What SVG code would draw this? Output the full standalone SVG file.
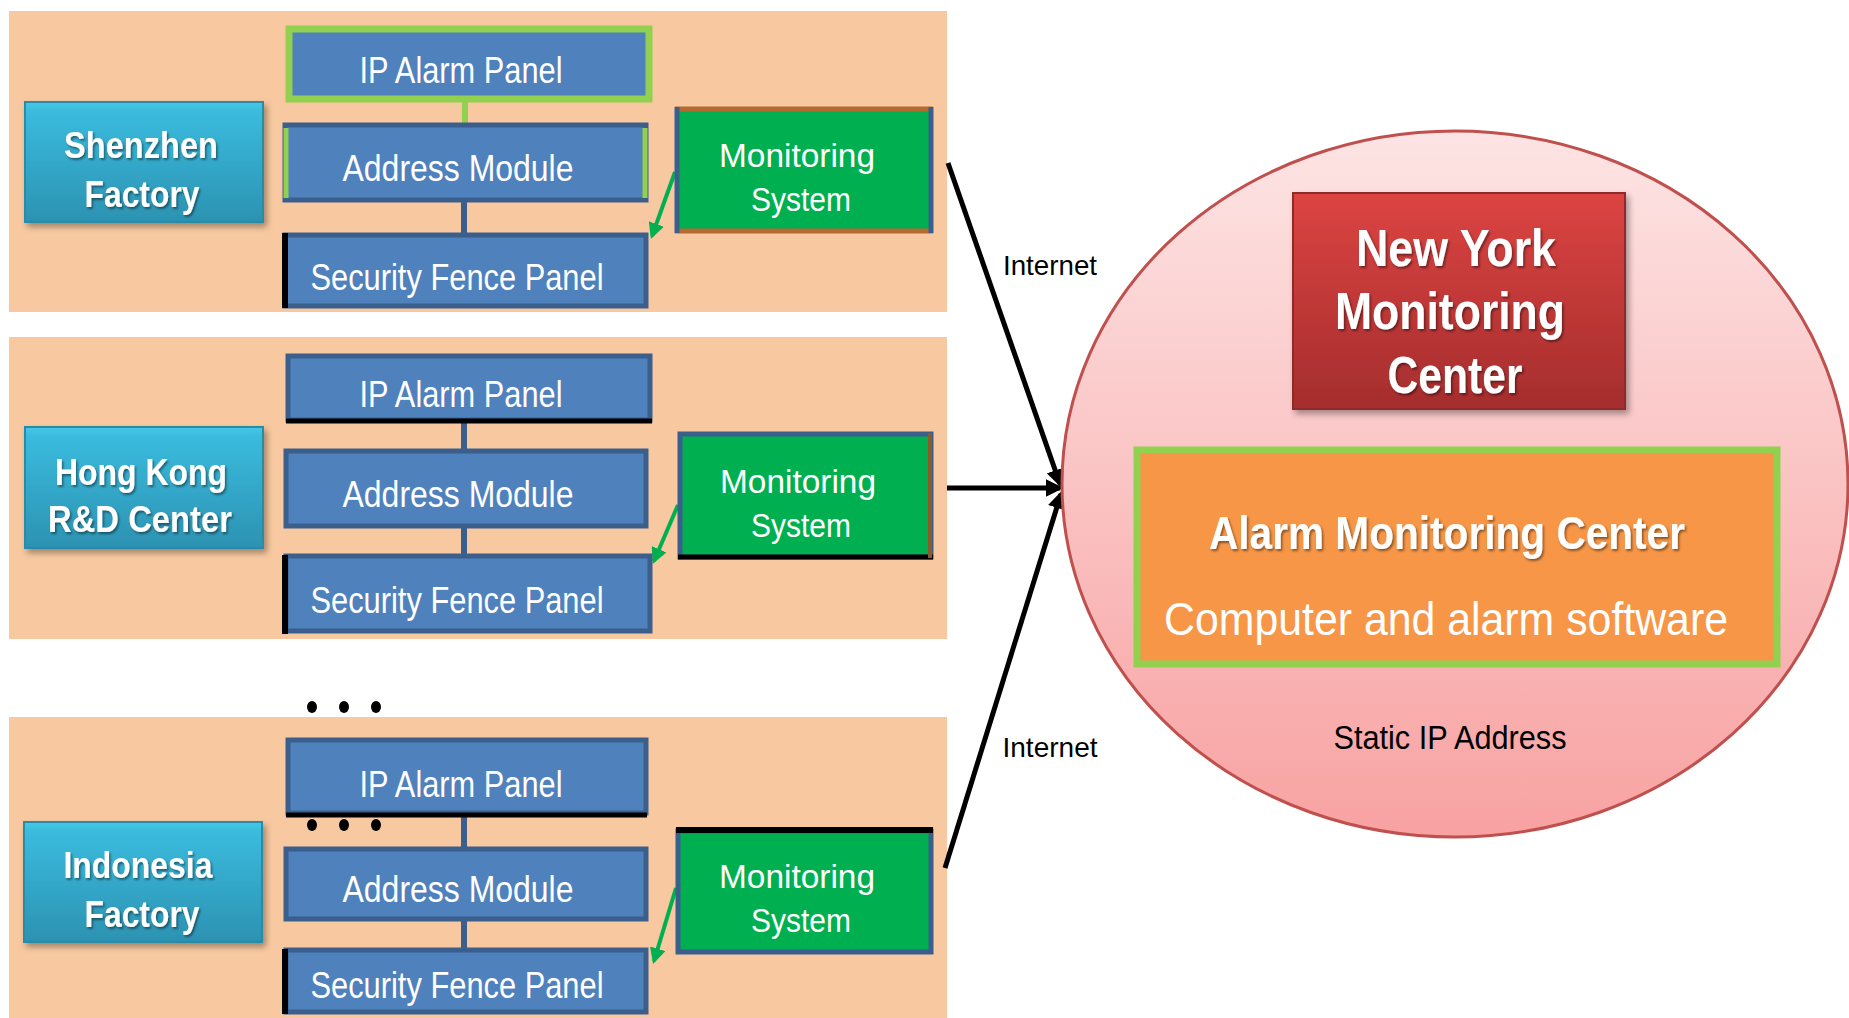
<svg xmlns="http://www.w3.org/2000/svg" width="1849" height="1018" viewBox="0 0 1849 1018">
<defs>
<style>
.band{fill:#F8C9A0}
.blue{fill:#4F81BD;stroke:#3A5F8D;stroke-width:5}
.wt{fill:#fff;font-family:"Liberation Sans",Arial,sans-serif;font-size:36px;text-anchor:middle}
.fac{fill:url(#facG);stroke:#2A8BA8;stroke-width:2}
.ft{fill:#fff;font-family:"Liberation Sans",Arial,sans-serif;font-size:37px;font-weight:bold;text-anchor:middle}
.mon{fill:#00B050}
.mt{fill:#fff;font-family:"Liberation Sans",Arial,sans-serif;font-size:34px;text-anchor:middle}
.gl{stroke:#00B050;stroke-width:4;fill:none}
.bl{stroke:#000;stroke-width:5;fill:none}
.lbl{fill:#000;font-family:"Liberation Sans",Arial,sans-serif;font-size:28px;text-anchor:middle}
</style>
<linearGradient id="facG" x1="0" y1="0" x2="0" y2="1">
<stop offset="0" stop-color="#46C8E8"/>
<stop offset="0.08" stop-color="#3ABBDD"/>
<stop offset="1" stop-color="#2C92B2"/>
</linearGradient>
<linearGradient id="circG" x1="0" y1="0" x2="0" y2="1">
<stop offset="0" stop-color="#FDE4E4"/>
<stop offset="1" stop-color="#F8A2A2"/>
</linearGradient>
<linearGradient id="nyG" x1="0" y1="0" x2="0" y2="1">
<stop offset="0" stop-color="#DC4442"/>
<stop offset="1" stop-color="#A52D2D"/>
</linearGradient>
<filter id="sh" x="-10%" y="-10%" width="130%" height="130%">
<feDropShadow dx="3" dy="4" stdDeviation="3" flood-color="#000" flood-opacity="0.35"/>
</filter>
<filter id="tsh" x="-10%" y="-10%" width="120%" height="130%">
<feDropShadow dx="1.5" dy="2" stdDeviation="1" flood-color="#000" flood-opacity="0.45"/>
</filter>
<marker id="ga" viewBox="0 0 10 10" refX="8" refY="5" markerWidth="4" markerHeight="4" orient="auto" markerUnits="strokeWidth">
<path d="M0,0 L10,5 L0,10 z" fill="#00B050"/>
</marker>
<marker id="ba" viewBox="0 0 10 10" refX="8" refY="5" markerWidth="3.6" markerHeight="3.6" orient="auto" markerUnits="strokeWidth">
<path d="M0,0 L10,5 L0,10 z" fill="#000"/>
</marker>
</defs>
<rect width="1849" height="1018" fill="#fff"/>

<g id="bands">
<rect class="band" x="9" y="11" width="938" height="301"/>
<rect class="band" x="9" y="337" width="938" height="302"/>
<rect class="band" x="9" y="717" width="938" height="301"/>
</g>

<g id="connectors">
<!-- band 1 -->
<line x1="465" y1="101" x2="465" y2="155" stroke="#92D050" stroke-width="6"/>
<line x1="464" y1="202" x2="464" y2="258" stroke="#3A5F8D" stroke-width="6"/>
<line class="gl" x1="675" y1="172" x2="652" y2="236" marker-end="url(#ga)"/>
<!-- band 2 -->
<line x1="464" y1="423" x2="464" y2="449" stroke="#3A5F8D" stroke-width="6"/>
<line x1="464" y1="528" x2="464" y2="584" stroke="#3A5F8D" stroke-width="6"/>
<line class="gl" x1="678" y1="505" x2="654" y2="561" marker-end="url(#ga)"/>
<!-- band 3 -->
<line x1="464" y1="817" x2="464" y2="874" stroke="#3A5F8D" stroke-width="6"/>
<line x1="464" y1="921" x2="464" y2="974" stroke="#3A5F8D" stroke-width="6"/>
<line class="gl" x1="676" y1="888" x2="654" y2="961" marker-end="url(#ga)"/>
<!-- internet -->
<line class="bl" x1="948" y1="163" x2="1060" y2="484" marker-end="url(#ba)"/>
<line class="bl" x1="947" y1="488" x2="1060" y2="488" marker-end="url(#ba)"/>
<line class="bl" x1="945" y1="868" x2="1061" y2="494" marker-end="url(#ba)"/>
<text class="lbl" x="1050" y="275" textLength="94" lengthAdjust="spacingAndGlyphs">Internet</text>
<text class="lbl" x="1050" y="757" textLength="95" lengthAdjust="spacingAndGlyphs">Internet</text>
</g>

<!-- Band 1 -->
<g id="shenzhen">
<rect class="fac" x="25" y="102" width="238" height="120" filter="url(#sh)"/>
<text class="ft" x="141" y="158" textLength="154" lengthAdjust="spacingAndGlyphs" filter="url(#tsh)">Shenzhen</text>
<text class="ft" x="142" y="207" textLength="115" lengthAdjust="spacingAndGlyphs" filter="url(#tsh)">Factory</text>
</g>
<g id="ip1">
<rect x="289" y="29" width="360" height="70" fill="#4F81BD" stroke="#92D050" stroke-width="7"/>
<text class="wt" x="461" y="83" textLength="203" lengthAdjust="spacingAndGlyphs">IP Alarm Panel</text>
</g>
<g id="addr1">
<rect class="blue" x="285" y="125" width="361" height="75"/>
<line x1="286" y1="128" x2="286" y2="198" stroke="#92D050" stroke-width="5"/>
<line x1="645" y1="128" x2="645" y2="198" stroke="#92D050" stroke-width="5"/>
<text class="wt" x="458" y="181" textLength="231" lengthAdjust="spacingAndGlyphs">Address Module</text>
</g>
<g id="sec1">
<rect class="blue" x="285" y="235" width="361" height="71"/>
<line x1="285" y1="233" x2="285" y2="308" stroke="#000" stroke-width="6"/>
<text class="wt" x="457" y="290" textLength="293" lengthAdjust="spacingAndGlyphs">Security Fence Panel</text>
</g>
<g id="mon1">
<rect class="mon" x="677" y="109" width="254" height="122"/>
<line x1="675" y1="109" x2="933" y2="109" stroke="#B46A30" stroke-width="5"/>
<line x1="675" y1="231" x2="933" y2="231" stroke="#B46A30" stroke-width="5"/>
<line x1="677" y1="107" x2="677" y2="233" stroke="#3A5F8D" stroke-width="5"/>
<line x1="931" y1="107" x2="931" y2="233" stroke="#3A5F8D" stroke-width="5"/>
<text class="mt" x="797" y="167" textLength="156" lengthAdjust="spacingAndGlyphs">Monitoring</text>
<text class="mt" x="801" y="211" textLength="100" lengthAdjust="spacingAndGlyphs">System</text>
</g>

<!-- Band 2 -->
<g id="hongkong">
<rect class="fac" x="25" y="427" width="238" height="121" filter="url(#sh)"/>
<text class="ft" x="141" y="485" textLength="172" lengthAdjust="spacingAndGlyphs" filter="url(#tsh)">Hong Kong</text>
<text class="ft" x="140" y="532" textLength="184" lengthAdjust="spacingAndGlyphs" filter="url(#tsh)">R&amp;D Center</text>
</g>
<g id="ip2">
<rect class="blue" x="288" y="356" width="362" height="64"/>
<line x1="286" y1="421" x2="652" y2="421" stroke="#000" stroke-width="5"/>
<text class="wt" x="461" y="407" textLength="203" lengthAdjust="spacingAndGlyphs">IP Alarm Panel</text>
</g>
<g id="addr2">
<rect class="blue" x="286" y="451" width="360" height="75"/>
<text class="wt" x="458" y="507" textLength="231" lengthAdjust="spacingAndGlyphs">Address Module</text>
</g>
<g id="sec2">
<rect class="blue" x="286" y="556" width="364" height="75"/>
<line x1="285" y1="555" x2="285" y2="634" stroke="#000" stroke-width="6"/>
<text class="wt" x="457" y="613" textLength="293" lengthAdjust="spacingAndGlyphs">Security Fence Panel</text>
</g>
<g id="mon2">
<rect class="mon" x="680" y="434" width="251" height="123" stroke="#3A5F8D" stroke-width="5"/>
<line x1="678" y1="557" x2="933" y2="557" stroke="#000" stroke-width="5"/>
<line x1="930" y1="433" x2="930" y2="558" stroke="#8B5A2B" stroke-width="4"/>
<text class="mt" x="798" y="493" textLength="156" lengthAdjust="spacingAndGlyphs">Monitoring</text>
<text class="mt" x="801" y="537" textLength="100" lengthAdjust="spacingAndGlyphs">System</text>
</g>

<!-- dots -->
<g id="dots" fill="#000">
<ellipse cx="312" cy="707" rx="5" ry="6"/>
<ellipse cx="344" cy="707" rx="5" ry="6"/>
<ellipse cx="376" cy="707" rx="5" ry="6"/>
<ellipse cx="312" cy="825" rx="5" ry="6"/>
<ellipse cx="344" cy="825" rx="5" ry="6"/>
<ellipse cx="376" cy="825" rx="5" ry="6"/>
</g>

<!-- Band 3 -->
<g id="indonesia">
<rect class="fac" x="24" y="822" width="238" height="120" filter="url(#sh)"/>
<text class="ft" x="138" y="878" textLength="149" lengthAdjust="spacingAndGlyphs" filter="url(#tsh)">Indonesia</text>
<text class="ft" x="142" y="927" textLength="115" lengthAdjust="spacingAndGlyphs" filter="url(#tsh)">Factory</text>
</g>
<g id="ip3">
<rect class="blue" x="288" y="740" width="358" height="73"/>
<line x1="286" y1="815" x2="647" y2="815" stroke="#000" stroke-width="5"/>
<text class="wt" x="461" y="797" textLength="203" lengthAdjust="spacingAndGlyphs">IP Alarm Panel</text>
</g>
<g id="addr3">
<rect class="blue" x="286" y="849" width="360" height="70"/>
<text class="wt" x="458" y="902" textLength="231" lengthAdjust="spacingAndGlyphs">Address Module</text>
</g>
<g id="sec3">
<rect class="blue" x="286" y="950" width="360" height="62"/>
<line x1="285" y1="949" x2="285" y2="1014" stroke="#000" stroke-width="6"/>
<text class="wt" x="457" y="998" textLength="293" lengthAdjust="spacingAndGlyphs">Security Fence Panel</text>
</g>
<g id="mon3">
<rect class="mon" x="678" y="831" width="253" height="121" stroke="#3A5F8D" stroke-width="5"/>
<line x1="676" y1="830" x2="933" y2="830" stroke="#000" stroke-width="6"/>
<text class="mt" x="797" y="888" textLength="156" lengthAdjust="spacingAndGlyphs">Monitoring</text>
<text class="mt" x="801" y="932" textLength="100" lengthAdjust="spacingAndGlyphs">System</text>
</g>

<!-- Right side -->
<g id="center">
<ellipse cx="1455" cy="484" rx="393" ry="353" fill="url(#circG)" stroke="#C0504D" stroke-width="3"/>
<text x="1450" y="749" fill="#000" font-family="'Liberation Sans',Arial,sans-serif" font-size="33" text-anchor="middle" textLength="233" lengthAdjust="spacingAndGlyphs">Static IP Address</text>
</g>
<g id="newyork">
<rect x="1293" y="193" width="332" height="216" fill="url(#nyG)" stroke="#8E2A2A" stroke-width="2" filter="url(#sh)"/>
<g font-family="'Liberation Sans',Arial,sans-serif" font-size="52" font-weight="bold" fill="#fff" text-anchor="middle" filter="url(#tsh)">
<text x="1456" y="266" textLength="200" lengthAdjust="spacingAndGlyphs">New York</text>
<text x="1450" y="329" textLength="230" lengthAdjust="spacingAndGlyphs">Monitoring</text>
<text x="1455" y="393" textLength="135" lengthAdjust="spacingAndGlyphs">Center</text>
</g>
</g>
<g id="alarm">
<rect x="1137" y="450" width="640" height="214" fill="#F79646" stroke="#92D050" stroke-width="7"/>
<text x="1447" y="549" fill="#fff" font-family="'Liberation Sans',Arial,sans-serif" font-size="46" font-weight="bold" text-anchor="middle" textLength="476" lengthAdjust="spacingAndGlyphs" filter="url(#tsh)">Alarm Monitoring Center</text>
<text x="1446" y="635" fill="#fff" font-family="'Liberation Sans',Arial,sans-serif" font-size="46" text-anchor="middle" textLength="564" lengthAdjust="spacingAndGlyphs">Computer and alarm software</text>
</g>
</svg>
